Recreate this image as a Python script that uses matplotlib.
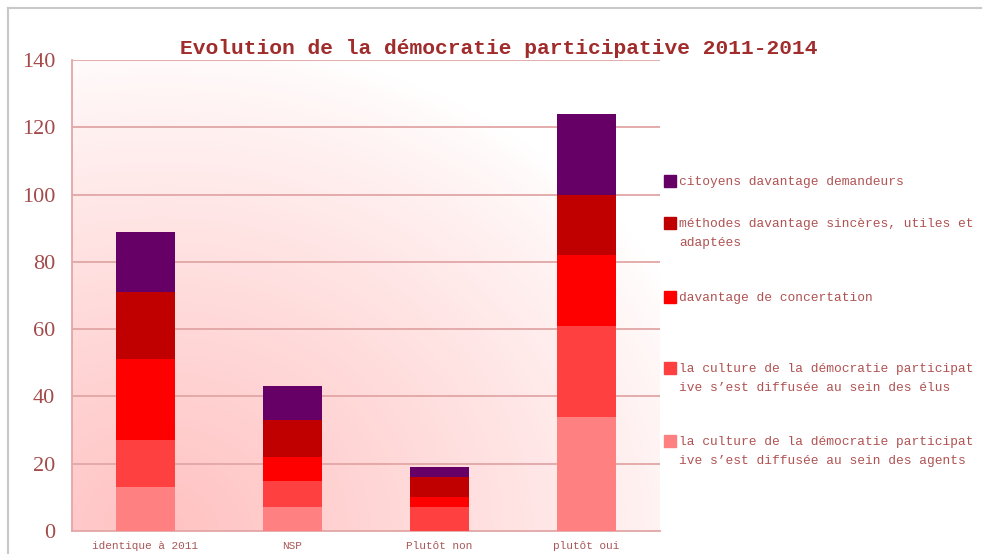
import numpy as np
import matplotlib
matplotlib.use("Agg")
import matplotlib.pyplot as plt
from matplotlib.patches import Rectangle
from matplotlib.lines import Line2D

# ---------------- data ----------------
categories = ["identique à 2011", "NSP", "Plutôt non", "plutôt oui"]
agents = [13, 7, 0, 34]
elus = [14, 8, 7, 27]
concertation = [24, 7, 3, 21]
methodes = [20, 11, 6, 18]
citoyens = [18, 10, 3, 24]
yticks = [0, 20, 40, 60, 80, 100, 120, 140]
title = "Evolution de la démocratie participative 2011-2014"

# legend order (top to bottom) as in the reference, with the reference's line wraps
legend_labels = [
    "citoyens davantage demandeurs",
    "méthodes davantage sincères, utiles et\nadaptées",
    "davantage de concertation",
    "la culture de la démocratie participat\nive s’est diffusée au sein des élus",
    "la culture de la démocratie participat\nive s’est diffusée au sein des agents",
]

# ---------------- style ----------------
series = [agents, elus, concertation, methodes, citoyens]
colors = ["#ff8080", "#ff4040", "#ff0000", "#c00000", "#660066"]
legend_colors = colors[::-1]
W, H = 982, 554
fig = plt.figure(figsize=(W / 100, H / 100), dpi=100)
fig.patch.set_facecolor("white")

ax = fig.add_axes([72 / W, 1 - 531 / H, (660 - 72) / W, (531 - 60) / H])
ax.set_xlim(-0.5, 3.5)
ax.set_ylim(0, 140)

# gradient background (pink at lower left fading to white)
nx, ny = 300, 240
xx, yy = np.meshgrid(np.linspace(0, 1, nx), np.linspace(0, 1, ny))
d = np.sqrt(((xx - 0.15) / 1.0) ** 2 + ((yy - 0.0) / 1.05) ** 2)
t = np.clip(1 - d, 0, 1) ** 0.85
pink = np.array([1.0, 0.76, 0.76])
white = np.array([1.0, 1.0, 1.0])
img = white[None, None, :] * (1 - t[..., None]) + pink[None, None, :] * t[..., None]
ax.imshow(img, extent=(-0.5, 3.5, 0, 140), origin="lower", aspect="auto", zorder=0,
          interpolation="bilinear")

# grid
for yv in yticks[1:]:
    ax.axhline(yv, color="#e2a6a6", lw=1.3, zorder=1)

x = np.arange(len(categories))
bottom = np.zeros(len(categories))
for vals, c in zip(series, colors):
    ax.bar(x, vals, width=0.40, bottom=bottom, color=c, zorder=3, linewidth=0)
    bottom += np.array(vals)

for s in ["top", "right"]:
    ax.spines[s].set_visible(False)
for s in ["left", "bottom"]:
    ax.spines[s].set_color("#e2a6a6")
    ax.spines[s].set_linewidth(1.3)

ax.set_yticks(yticks)
ax.set_yticklabels([str(v) for v in yticks], family="Liberation Serif", fontsize=16,
                   color="#a44a4a")
ax.tick_params(axis="y", length=0, pad=12)
ax.set_xticks(x)
ax.set_xticklabels(categories, family="Liberation Mono", fontsize=8, color="#a85858")
ax.tick_params(axis="x", length=0, pad=7)

# title
fig.text(499 / W, 1 - 48 / H, title, ha="center", va="center",
         family="Liberation Mono", fontweight="bold", fontsize=15.3, color="#a02c2c")

# legend (manual, to mimic reference layout)
entry_y = [181, 223, 297, 368, 441]
for yv, lab, c in zip(entry_y, legend_labels, legend_colors):
    fig.patches.append(Rectangle((664 / W, 1 - (yv + 6) / H), 12 / W, 12 / H,
                                 transform=fig.transFigure, color=c, figure=fig))
    fig.text(679 / W, 1 - (yv - 5) / H, lab, ha="left", va="top",
             family="Liberation Mono", fontsize=9.3, color="#b05252",
             linespacing=1.75)

# outer frame lines
fig.add_artist(Line2D([8 / W, 1], [1 - 8 / H, 1 - 8 / H], transform=fig.transFigure,
                      color="#c8c8c8", lw=1.5))
fig.add_artist(Line2D([8 / W, 8 / W], [0, 1 - 8 / H], transform=fig.transFigure,
                      color="#c8c8c8", lw=1.5))

fig.savefig("out.png", dpi=100)
